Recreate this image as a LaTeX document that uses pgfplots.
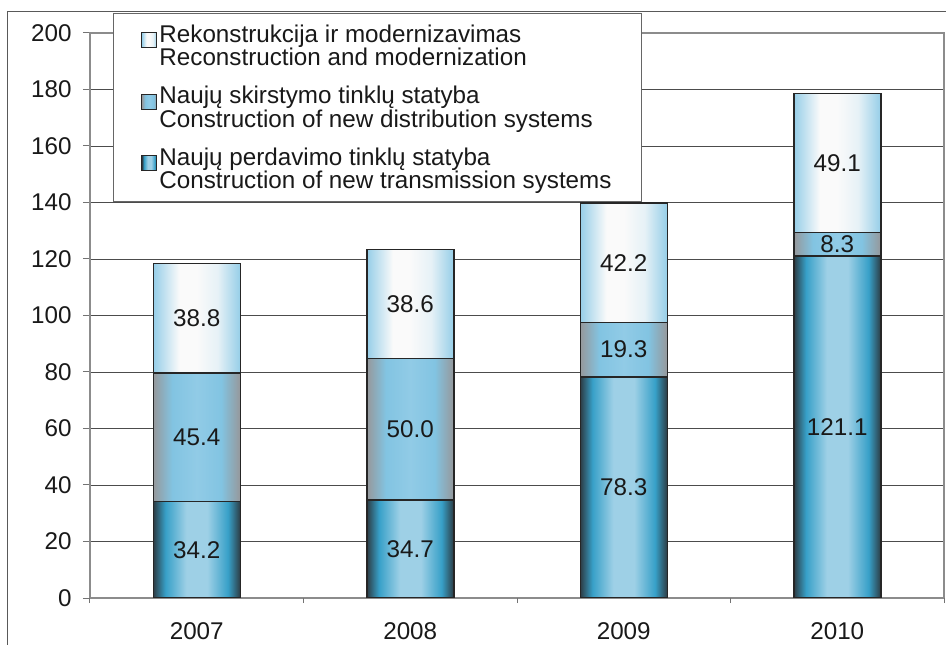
\documentclass[border=0pt]{standalone}
\usepackage{fontspec}
\setmainfont{Liberation Sans}
\usepackage{pgfplots}
\pgfplotsset{compat=1.18}

\definecolor{tdark}{RGB}{45,60,68}
\definecolor{tblue}{RGB}{55,160,200}
\definecolor{tlight}{RGB}{158,208,230}
\definecolor{dgray}{RGB}{150,152,155}
\definecolor{dblue}{RGB}{130,196,226}
\definecolor{dlight}{RGB}{145,203,230}
\definecolor{rblue}{RGB}{150,206,232}
\definecolor{rwhite}{RGB}{250,250,250}

\pgfdeclarehorizontalshading{transsh}{100bp}{color(0bp)=(tdark); color(25bp)=(tdark); color(32bp)=(tblue); color(44bp)=(tlight); color(56bp)=(tlight); color(68bp)=(tblue); color(75bp)=(tdark); color(100bp)=(tdark)}
\pgfdeclarehorizontalshading{distsh}{100bp}{color(0bp)=(dgray); color(25bp)=(dgray); color(36bp)=(dblue); color(50bp)=(dlight); color(64bp)=(dblue); color(75bp)=(dgray); color(100bp)=(dgray)}
\pgfdeclarehorizontalshading{recsh}{100bp}{color(0bp)=(rblue); color(25bp)=(rblue); color(40bp)=(rwhite); color(50bp)=(rwhite); color(62bp)=(rwhite!80!rblue); color(75bp)=(rblue); color(100bp)=(rblue)}

\pgfplotsset{
  mybox/.style={
    at={(0,0)}, anchor=south west,
    scale only axis, width=854bp, height=565bp,
    xmin=-0.5, xmax=3.5, ymin=0, ymax=200,
  },
  yearaxis/.style={
    mybox, axis lines=none, xtick=\empty, ytick=\empty,
    ybar stacked, bar width=87bp,
  },
  trans/.style={draw=black!85, line width=1.5bp, shading=transsh},
  dist/.style={draw=black!85, line width=1.5bp, shading=distsh},
  recon/.style={draw=black!85, line width=1.5bp, shading=recsh},
}

\begin{document}
\begin{tikzpicture}
\draw[black!65, line width=1bp] (-82bp,-60bp) -- (-82bp,586bp) -- (870bp,586bp);
% base axis: grid, ticks, legend
\begin{axis}[
  mybox,
  font=\fontsize{24.3}{26}\selectfont,
  /pgf/number format/assume math mode=true,
  ytick={0,20,...,200},
  xtick={0,1,2,3}, xticklabels={2007,2008,2009,2010},
  ytick pos=left, xtick pos=bottom,
  tick align=outside, major tick length=7bp,
  tick style={draw=black!55, line width=1bp},
  xtick style={draw=none},
  extra x ticks={-0.5,0.5,1.5,2.5,3.5}, extra x tick labels={},
  extra x tick style={grid=none, major tick length=5bp, xtick style={draw=black!55, line width=1bp}},
  axis line style={draw=black!45, line width=1.8bp},
  ymajorgrids, grid style={draw=black!70, line width=0.8bp},
  yticklabel style={xshift=-8bp, text=black!90},
  xticklabel style={yshift=-14bp, text=black!90},
  legend style={at={(0.0269,1.0354)}, anchor=north west, draw=black!60, line width=1bp,
    fill=white, font=\fontsize{24.3}{22.5}\selectfont, text=black!90,
    row sep=15bp, inner xsep=28bp, inner ysep=9bp,
    cells={align=left, anchor=west}},
]
\addlegendimage{legend image code/.code={\draw[shading=recsh, draw=black!85, line width=1bp] (0bp,-2bp) rectangle (15bp,13bp);}}
\addlegendentry{Rekonstrukcija ir modernizavimas\\Reconstruction and modernization}
\addlegendimage{legend image code/.code={\draw[shading=distsh, draw=black!85, line width=1bp] (0bp,-2bp) rectangle (15bp,13bp);}}
\addlegendentry{Naujų skirstymo tinklų statyba\\Construction of new distribution systems}
\addlegendimage{legend image code/.code={\draw[shading=transsh, draw=black!85, line width=1bp] (0bp,-2bp) rectangle (15bp,13bp);}}
\addlegendentry{Naujų perdavimo tinklų statyba\\Construction of new transmission systems}
\end{axis}
% one stacked axis per year so each bar gets its own shading
\begin{axis}[yearaxis]
\addplot[trans] coordinates {(0,34.2)};
\addplot[dist]  coordinates {(0,45.4)};
\addplot[recon] coordinates {(0,38.8)};
\end{axis}
\begin{axis}[yearaxis]
\addplot[trans] coordinates {(1,34.7)};
\addplot[dist]  coordinates {(1,50.0)};
\addplot[recon] coordinates {(1,38.6)};
\end{axis}
\begin{axis}[yearaxis]
\addplot[trans] coordinates {(2,78.3)};
\addplot[dist]  coordinates {(2,19.3)};
\addplot[recon] coordinates {(2,42.2)};
\end{axis}
\begin{axis}[yearaxis]
\addplot[trans] coordinates {(3,121.1)};
\addplot[dist]  coordinates {(3,8.3)};
\addplot[recon] coordinates {(3,49.1)};
\end{axis}
% value labels at segment centres
\begin{axis}[mybox, axis lines=none, xtick=\empty, ytick=\empty]
\addplot[draw=none, mark=none, nodes near coords, point meta=explicit symbolic,
  nodes near coords style={anchor=center, font=\fontsize{24.3}{26}\selectfont, text=black!90}]
  table[x=x, y=ym, meta=lab] {
x ym lab
0 17.1 34.2
0 56.9 45.4
0 99.0 38.8
1 17.35 34.7
1 59.7 50.0
1 104.0 38.6
2 39.15 78.3
2 87.95 19.3
2 118.7 42.2
3 60.55 121.1
3 125.25 8.3
3 153.95 49.1
};
\end{axis}
\pgfresetboundingbox
\useasboundingbox (-90bp,-47bp) rectangle (856bp,598bp);
\end{tikzpicture}
\end{document}
